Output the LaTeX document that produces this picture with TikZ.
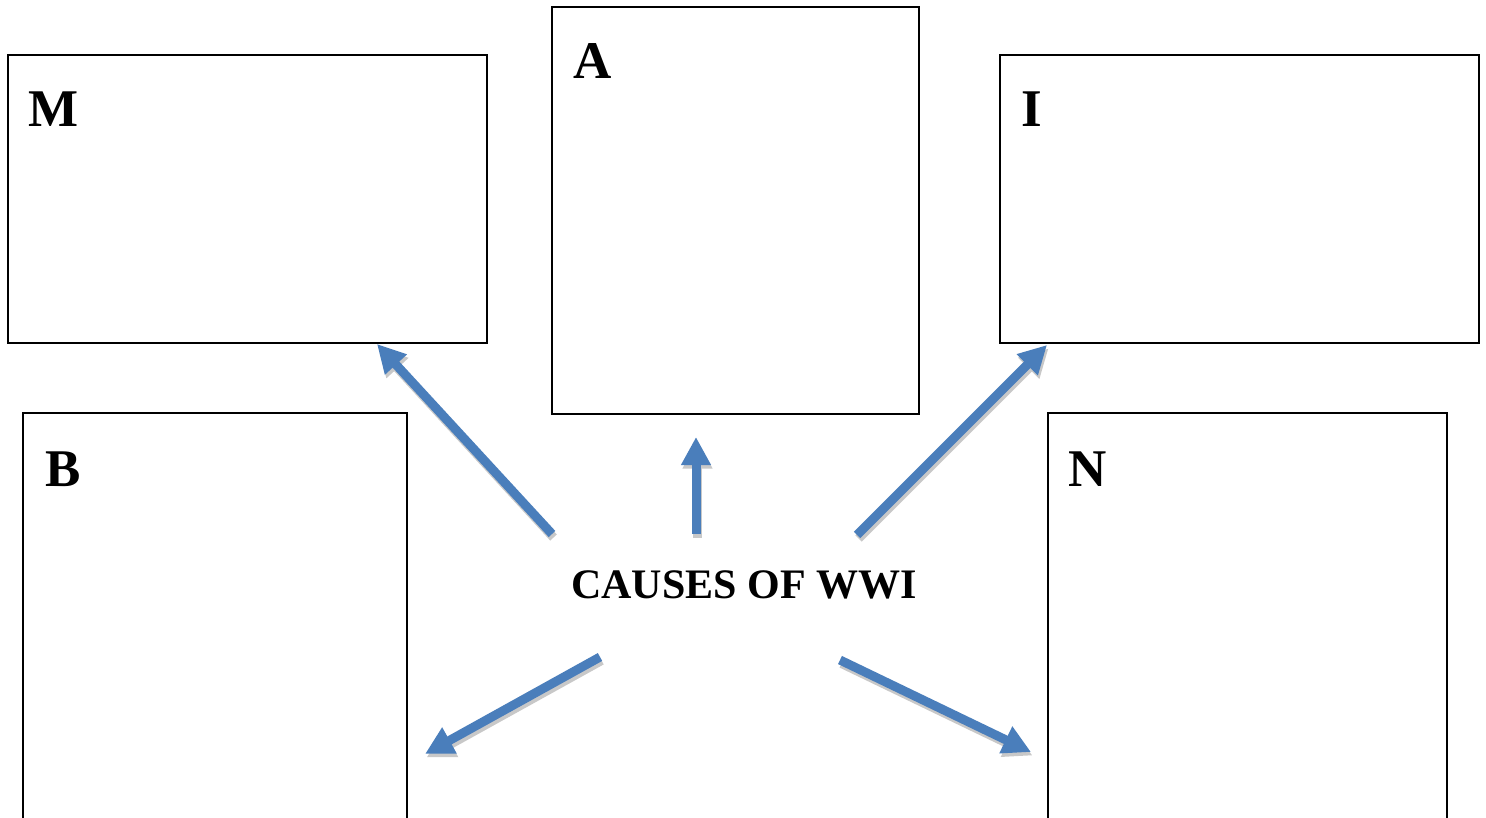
\documentclass[tikz,border=0pt]{standalone}
\usepackage{fontspec}
\setmainfont{Liberation Serif}
\usetikzlibrary{arrows.meta}
\definecolor{arrowblue}{HTML}{4A7EBB}
\definecolor{shadowgray}{HTML}{C8C8C8}
\tikzset{
  box/.style={draw=black, line width=1.6pt, rectangle, anchor=north west,
    inner sep=0pt, outer sep=0pt},
  lbl/.style={anchor=base west, inner sep=0pt, outer sep=0pt,
    font=\fontsize{53}{53}\selectfont\bfseries},
  title/.style={anchor=base, inner sep=0pt,
    font=\fontsize{42}{42}\selectfont\bfseries},
  causearrow/.style={draw=arrowblue, line width=9pt,
    -{Triangle[length=28pt, width=28pt, fill=arrowblue]}},
  shadowarrow/.style={draw=shadowgray, line width=9pt,
    -{Triangle[length=28pt, width=28pt, fill=shadowgray]}},
}
\begin{document}
\begin{tikzpicture}[x=1pt, y=-1pt]
\useasboundingbox (0,0) rectangle (1486,818);
\fill[white] (0,0) rectangle (1486,818);
\clip (0,0) rectangle (1486,818);

% the five cause boxes
\node[box, minimum width=479pt, minimum height=288pt] (M) at (8,55) {};
\node[box, minimum width=367pt, minimum height=407pt] (A) at (552,7) {};
\node[box, minimum width=479pt, minimum height=288pt] (I) at (1000,55) {};
\node[box, minimum width=384pt, minimum height=440pt] (B) at (23,413) {};
\node[box, minimum width=399pt, minimum height=440pt] (N) at (1048,413) {};

% box letters
\node[lbl] (lM) at ([shift={(20,72)}]M.north west) {M};
\node[lbl] (lA) at ([shift={(21,72)}]A.north west) {A};
\node[lbl] (lI) at ([shift={(21,72)}]I.north west) {I};
\node[lbl] (lB) at ([shift={(22,73)}]B.north west) {B};
\node[lbl] (lN) at ([shift={(20,73)}]N.north west) {N};

% central title
\node[title] (causes) at (744,598) {CAUSES OF WWI};

% arrow ends
\coordinate (sM) at (552,534);
\coordinate (tM) at (377,344);
\coordinate (sA) at (696,534);
\coordinate (tA) at (696,437);
\coordinate (sI) at (857,535);
\coordinate (tI) at (1047,345);
\coordinate (sB) at (600,657);
\coordinate (tB) at (425,754);
\coordinate (sN) at (840,660);
\coordinate (tN) at (1031,752);

% arrows with a soft drop shadow
\foreach \s/\t in {sM/tM, sA/tA, sI/tI, sB/tB, sN/tN} {
  \draw[shadowarrow] ([shift={(1.5,3.5)}]\s) -- ([shift={(1.5,3.5)}]\t);
  \draw[causearrow] (\s) -- (\t);
}
\end{tikzpicture}
\end{document}
